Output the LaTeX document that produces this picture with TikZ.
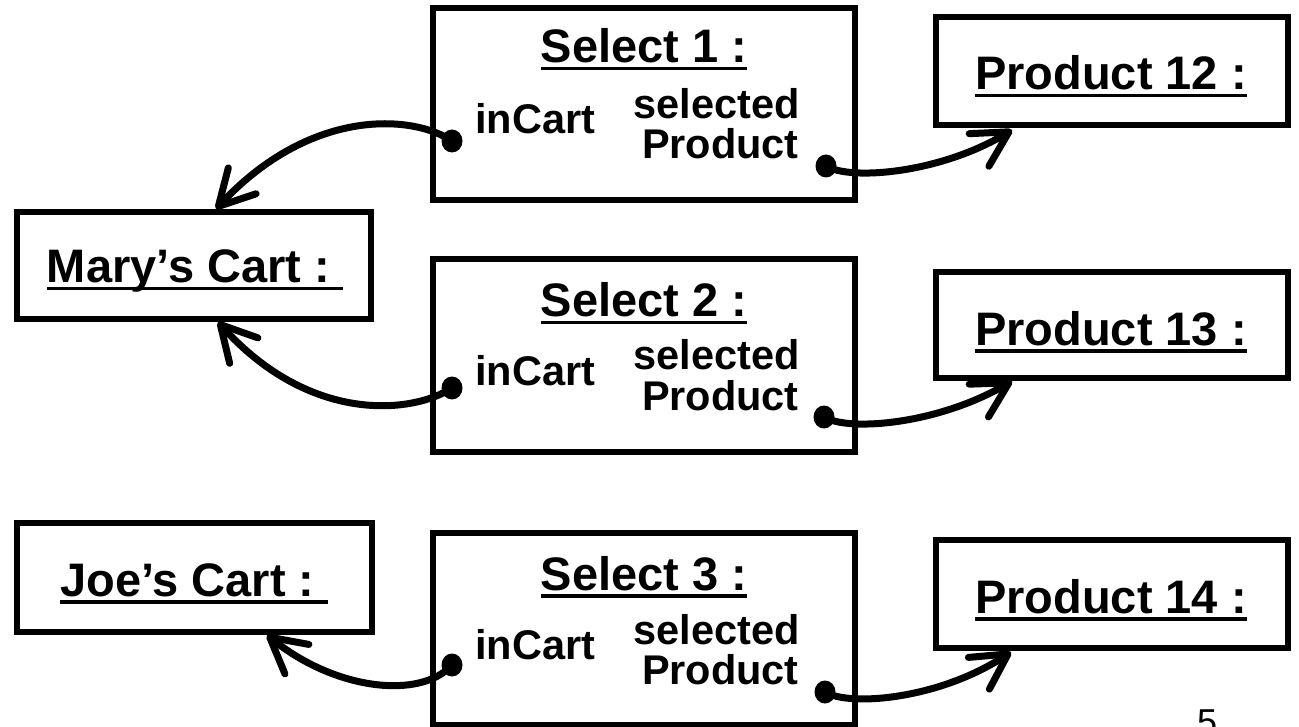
\documentclass[tikz,border=0pt]{standalone}
\usepackage{fontspec}
\setmainfont{Liberation Sans}
\usetikzlibrary{arrows.meta,shapes.geometric}

% underlined label: a solid bar under the whole text box
\newsavebox{\ulinebox}
\newcommand{\ulined}[1]{\sbox{\ulinebox}{#1}\rlap{\rule[-7.5pt]{\wd\ulinebox}{3.8pt}}\usebox{\ulinebox}}

\begin{document}
\begin{tikzpicture}[x=1pt,y=-1pt,
  box/.style={draw, line width=5.5pt, inner sep=0pt, outer sep=0pt},
  boxtitle/.style={anchor=base, inner sep=0pt, font=\fontsize{47}{50}\selectfont\bfseries},
  role/.style={inner sep=0pt, font=\fontsize{41.5}{44}\selectfont\bfseries},
  linkend/.style={ellipse, fill, inner sep=0pt, minimum width=21pt, minimum height=23pt},
  link/.style={line width=7pt, line cap=round,
    -{Straight Barb[length=35pt,width=38pt,round]}}]

\useasboundingbox (0,0) rectangle (1299,727);

% ---- object boxes
\node[box, minimum width=422pt, minimum height=192pt] (sel1) at (644,104) {};
\node[box, minimum width=422pt, minimum height=193pt] (sel2) at (644,355.5) {};
\node[box, minimum width=422pt, minimum height=192pt] (sel3) at (644,629) {};
\node[box, minimum width=352pt, minimum height=108pt] (prod12) at (1112,71) {};
\node[box, minimum width=352pt, minimum height=106pt] (prod13) at (1112,325) {};
\node[box, minimum width=352pt, minimum height=108pt] (prod14) at (1112,594) {};
\node[box, minimum width=354pt, minimum height=107pt] (mary) at (194,265.5) {};
\node[box, minimum width=355pt, minimum height=109pt] (joe) at (194.5,577.5) {};

% ---- object names
\node[boxtitle] (sel1t) at (644,63) {\ulined{Select 1 :}};
\node[boxtitle] (sel2t) at (644,317) {\ulined{Select 2 :}};
\node[boxtitle] (sel3t) at (644,590) {\ulined{Select 3 :}};
\node[boxtitle] (prod12t) at (1111,90) {\ulined{Product 12 :}};
\node[boxtitle] (prod13t) at (1111,345) {\ulined{Product 13 :}};
\node[boxtitle] (prod14t) at (1111,613) {\ulined{Product 14 :}};
\node[boxtitle] (maryt) at (195,283) {\ulined{Mary’s Cart :\ }};
\node[boxtitle] (joet) at (194,596) {\ulined{Joe’s Cart :\ }};

% ---- role names inside the Select boxes
\foreach \n/\t in {1/8, 2/259, 3/533} {
  \node[role, anchor=base west] (in\n) at (475,\t+126) {inCart};
  \node[role, anchor=base east] (sl\n) at (800,\t+111) {selected};
  \node[role, anchor=base east] (pr\n) at (799,\t+151) {Product};
}

% ---- link ends
\node[linkend] (s1in) at (452,141) {};
\node[linkend] (s2in) at (452,388) {};
\node[linkend] (s3in) at (452,665) {};
\node[linkend] (s1out) at (826,166) {};
\node[linkend] (s2out) at (824,417) {};
\node[linkend] (s3out) at (825,692) {};

\coordinate (m1) at (216,209);
\coordinate (m2) at (218,322);
\coordinate (j3) at (267,635);
\coordinate (p12) at (1012,130);
\coordinate (p13) at (1012,381);
\coordinate (p14) at (1011,652);

% ---- links to the carts
\draw[link] (s1in.center) .. controls (412,114) and (310,108) .. (m1);
\draw[link] (s2in.center) .. controls (412,414) and (310,424) .. (m2);
\draw[link] (s3in.center) .. controls (420,700) and (335,690) .. (j3);

% ---- links to the products
\draw[link] (s1out.center) .. controls (851,181) and (941,173) .. (p12);
\draw[link] (s2out.center) .. controls (849,432) and (939,424) .. (p13);
\draw[link] (s3out.center) .. controls (850,707) and (940,699) .. (p14);

% ---- page number
\node[anchor=north, inner sep=0pt, font=\fontsize{36}{40}\selectfont] (pagenum) at (1207,710) {5};
\end{tikzpicture}
\end{document}
